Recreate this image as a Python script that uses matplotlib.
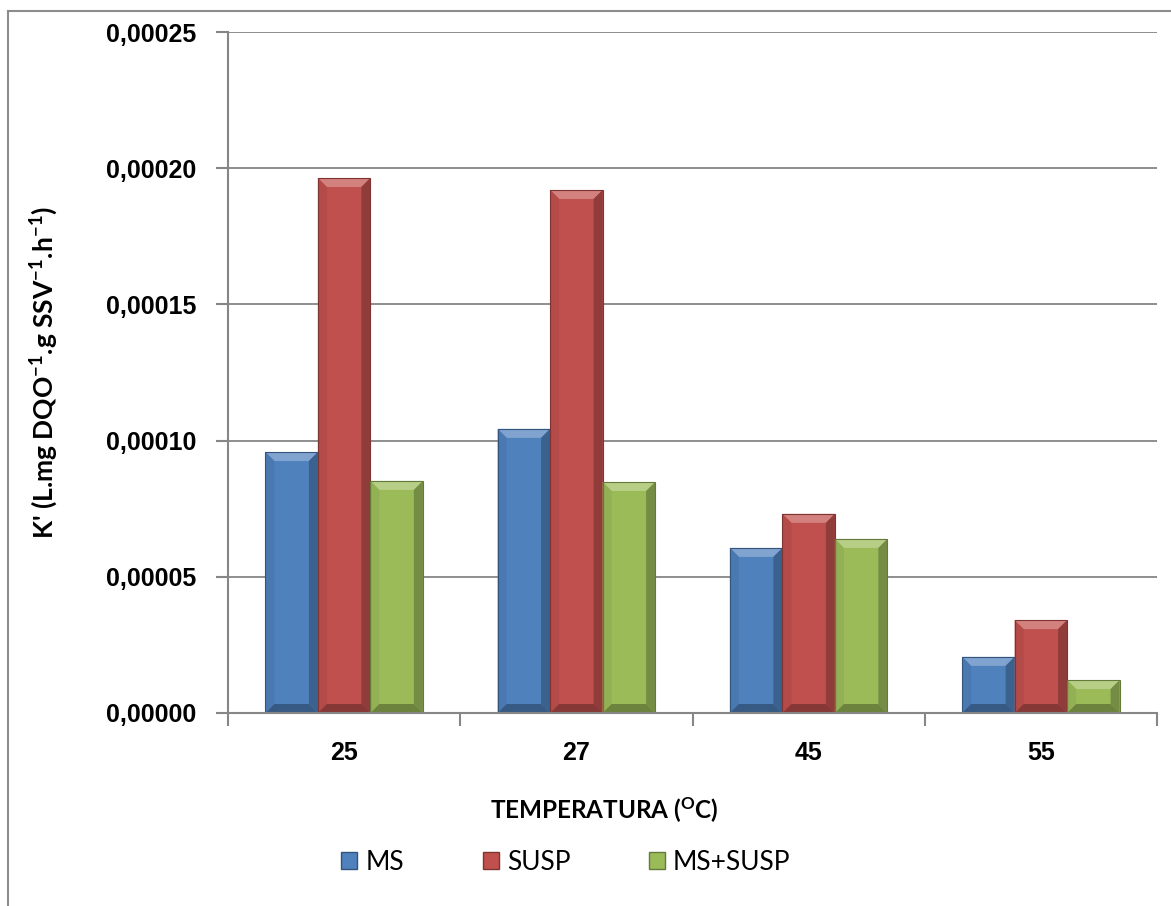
import matplotlib
matplotlib.use("Agg")
import matplotlib.pyplot as plt
import numpy as np
from matplotlib.patches import Polygon, Patch
from matplotlib.lines import Line2D
from matplotlib.ticker import FuncFormatter, MultipleLocator
from matplotlib.colors import to_rgb

# Data
categories = ["25", "27", "45", "55"]
series_names = ["MS", "SUSP", "MS+SUSP"]
ms = [0.0000958, 0.0001043, 0.0000606, 0.0000206]
susp = [0.0001964, 0.0001920, 0.0000731, 0.0000341]
ms_susp = [0.0000852, 0.0000848, 0.0000639, 0.0000121]
colors = ["#4F81BD", "#C0504D", "#9BBB59"]

narrow = "Lato"
main = "Liberation Sans"

W, H = 1171, 906
fig = plt.figure(figsize=(W / 100, H / 100), dpi=100)
ax = fig.add_axes([228 / W, 1 - 713 / H, (1157 - 228) / W, (713 - 32) / H])

x = np.arange(len(categories))
bw = 0.226
offsets = [-bw, 0.0, bw]
ymax = 0.00025
ax.set_xlim(-0.5, len(categories) - 0.5)
ax.set_ylim(0, ymax)

px_x = (1157 - 228) / len(categories)     # pixels per x unit
px_y = (713 - 32) / ymax                   # pixels per y unit


def mix(c, other, t):
    c = np.array(to_rgb(c)); o = np.array(to_rgb(other))
    return tuple(c * (1 - t) + o * t)


def bevel(rect, color, size=9):
    x0, y0 = rect.get_x(), rect.get_y()
    w, h = rect.get_width(), rect.get_height()
    bx = size / px_x
    by = min(size / px_y, h / 2.2)
    bxx = min(bx, w / 2.2)
    x1, y1 = x0 + w, y0 + h
    faces = [
        ([(x0, y1), (x1, y1), (x1 - bxx, y1 - by), (x0 + bxx, y1 - by)], mix(color, "white", 0.28)),
        ([(x0, y0), (x0, y1), (x0 + bxx, y1 - by), (x0 + bxx, y0 + by)], mix(color, "black", 0.06)),
        ([(x1, y0), (x1, y1), (x1 - bxx, y1 - by), (x1 - bxx, y0 + by)], mix(color, "black", 0.25)),
        ([(x0, y0), (x1, y0), (x1 - bxx, y0 + by), (x0 + bxx, y0 + by)], mix(color, "black", 0.30)),
    ]
    for pts, fc in faces:
        ax.add_patch(Polygon(pts, closed=True, facecolor=fc, edgecolor="none", zorder=3))
    ax.add_patch(Polygon([(x0, y0), (x0, y1), (x1, y1), (x1, y0)], closed=True,
                         facecolor="none", edgecolor=mix(color, "black", 0.35),
                         linewidth=0.8, zorder=4))


for vals, off, col, name in zip([ms, susp, ms_susp], offsets, colors, series_names):
    bars = ax.bar(x + off, vals, width=bw, color=col, zorder=2, label=name, linewidth=0)
    for r in bars:
        bevel(r, col)

# Axes styling
grid_c = "#868686"
ax.yaxis.set_major_locator(MultipleLocator(0.00005))
ax.yaxis.set_major_formatter(FuncFormatter(lambda v, p: f"{v:.5f}".replace(".", ",")))
ax.grid(axis="y", color=grid_c, linewidth=1.3, zorder=0)
ax.set_axisbelow(True)
for s in ["top", "right"]:
    ax.spines[s].set_visible(False)
for s in ["left", "bottom"]:
    ax.spines[s].set_color(grid_c)
    ax.spines[s].set_linewidth(1.5)
ax.spines["bottom"].set_zorder(5)

ax.set_xticks(x)
ax.set_xticklabels(categories)
ax.set_xticks(np.arange(-0.5, len(categories)), minor=True)
ax.tick_params(axis="x", which="major", length=0, pad=20)
ax.tick_params(axis="x", which="minor", length=9, width=1.5, color=grid_c, direction="out")
ax.tick_params(axis="y", length=9, width=1.5, color=grid_c, direction="out", pad=14)
for lab in ax.get_xticklabels() + ax.get_yticklabels():
    lab.set_fontfamily(main)
    lab.set_fontweight("bold")
    lab.set_fontsize(18)

# Axis titles (x title is centred on the whole chart area, like the legend)
fig.text(604 / W, 1 - 810 / H, "TEMPERATURA ($\\mathregular{^O}$C)", fontfamily=narrow,
         fontweight="bold", fontsize=17.5, ha="center", va="center")
ax.set_ylabel("K' (L.mg DQO$\\mathregular{^{-1}}$.g SSV$\\mathregular{^{-1}}$.h$\\mathregular{^{-1}}$)",
              fontfamily=narrow, fontweight="bold", fontsize=19, labelpad=33)

handles = [Patch(facecolor=c, edgecolor=mix(c, "black", 0.35), label=n)
           for c, n in zip(colors, series_names)]
fig.legend(handles=handles, loc="center", bbox_to_anchor=(566 / W, 1 - 862 / H), ncol=3,
           frameon=False, prop={"family": narrow, "size": 19}, handlelength=0.6,
           handleheight=0.6, handletextpad=0.3, columnspacing=3.0)

# Chart border
fig.add_artist(Line2D([8 / W, 1], [1 - 11 / H, 1 - 11 / H], color="#8c8c8c", linewidth=1.5))
fig.add_artist(Line2D([8 / W, 8 / W], [0, 1 - 11 / H], color="#8c8c8c", linewidth=1.5))

fig.savefig("out.png", dpi=100, facecolor="white")
